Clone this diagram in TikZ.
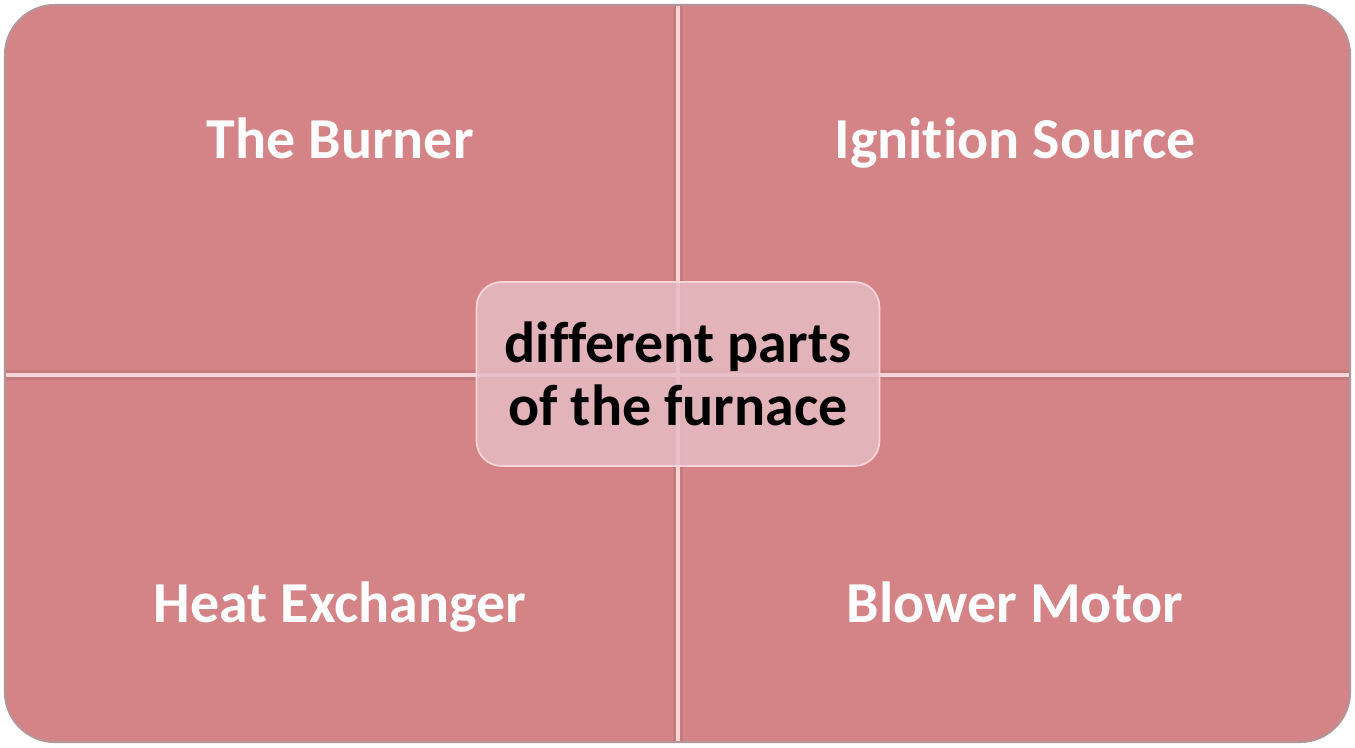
\documentclass[tikz,border=0pt]{standalone}
\usepackage{fontspec}
\setmainfont[Ligatures=CommonOff]{Carlito}
\usepackage{tikz}

\definecolor{quad}{HTML}{D48486}
\definecolor{seam}{HTML}{F6D4D8}
\definecolor{rim}{HTML}{B49498}
\definecolor{hub}{HTML}{E6BCC4}

\begin{document}
\begin{tikzpicture}[
  x=0.02cm, y=-0.02cm,
  font=\bfseries,
  part/.style={text=white, anchor=base, font=\fontsize{33}{40}\selectfont\bfseries},
  hubbox/.style={draw=seam, line width=1pt, fill=hub, fill opacity=0.85, text opacity=1,
    rounded corners=0.5cm, minimum width=8.06cm, minimum height=3.68cm, align=center,
    font=\fontsize{33}{35.5}\selectfont\bfseries}
]
\useasboundingbox (0,0) rectangle (1355,747);
% panel
\fill[quad, rounded corners=1cm] (5,5) rectangle (1350,742);
\draw[rim, line width=1.2pt, rounded corners=1cm] (5,5) rectangle (1350,742);
% seams between the four parts
\draw[quad!80!black, line width=6pt, opacity=0.35] (678,6) -- (678,741);
\draw[quad!80!black, line width=6pt, opacity=0.35] (6,375) -- (1349,375);
\draw[seam, line width=2.5pt] (678,6) -- (678,741);
\draw[seam, line width=2.5pt] (6,375) -- (1349,375);
\node[part] (burner) at (340,158) {The Burner};
\node[part] (ignition) at (1015,158) {Ignition Source};
\node[part] (exchanger) at (340,622) {Heat Exchanger};
\node[part] (blower) at (1015,622) {Blower Motor};
\node[hubbox] (furnace) at (678,374) {different parts\\of the furnace};
\end{tikzpicture}
\end{document}
